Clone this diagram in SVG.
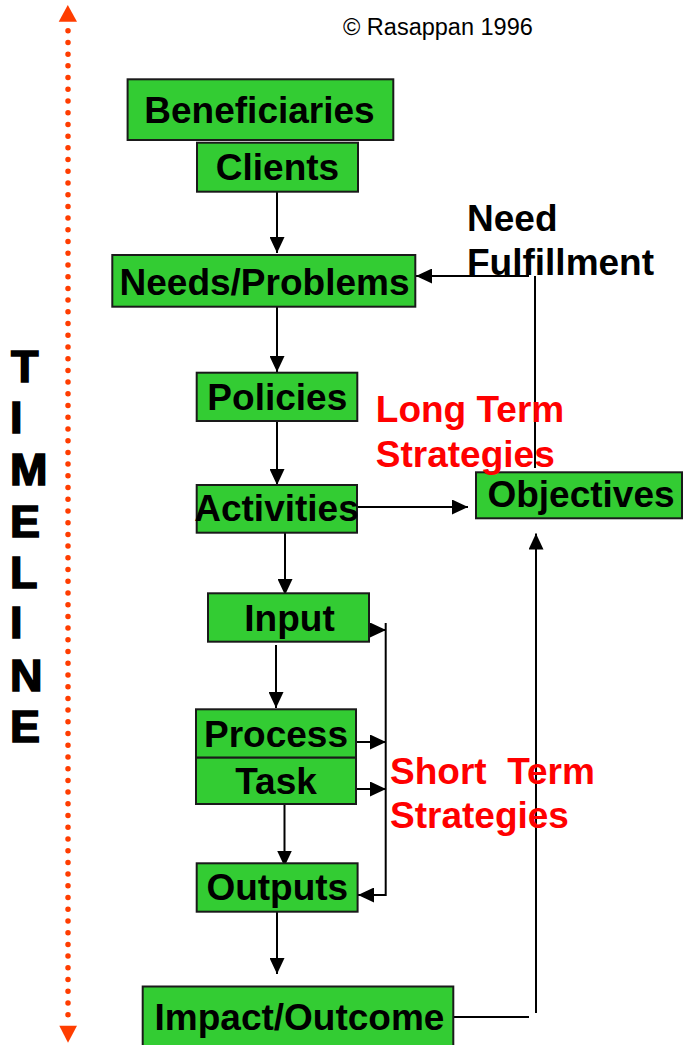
<svg xmlns="http://www.w3.org/2000/svg" width="683" height="1045" viewBox="0 0 683 1045">
  <style>
    .box { fill: #33CC33; stroke: #1a1a1a; stroke-width: 2; }
    .lbl { font-family: "Liberation Sans", Arial, sans-serif; font-weight: bold; font-size: 37px; fill: #000; text-anchor: middle; }
    .note { font-family: "Liberation Sans", Arial, sans-serif; font-weight: bold; font-size: 37px; }
    .red { fill: #FF0000; }
    .tl { font-family: "Liberation Sans", Arial, sans-serif; font-weight: bold; font-size: 45px; fill: #000; stroke: #000; stroke-width: 1.6; }
    .conn { fill: none; stroke: #000; stroke-width: 2; }
  </style>
  <defs>
    <marker id="arr" markerUnits="userSpaceOnUse" markerWidth="16" markerHeight="15" viewBox="0 0 16 15" refX="16" refY="7.5" orient="auto">
      <path d="M0,0 L16,7.5 L0,15 z" fill="#000"/>
    </marker>
  </defs>
  <rect width="683" height="1045" fill="#fff"/>

  <g id="timeline">
    <line x1="68" y1="30.7" x2="68" y2="1014.7" stroke="#FF3D00" stroke-width="5.5" stroke-linecap="round" stroke-dasharray="0 11.714"/>
    <polygon points="58.7,21.7 77,21.7 67.8,5" fill="#FF3D00"/>
    <polygon points="59.3,1025.7 77,1025.7 68,1042.7" fill="#FF3D00"/>
    <text class="tl" x="11" y="382">T</text>
    <text class="tl" x="10" y="433.4">I</text>
    <text class="tl" x="10" y="485">M</text>
    <text class="tl" x="10" y="536.8">E</text>
    <text class="tl" x="10" y="587.8">L</text>
    <text class="tl" x="10" y="638.4">I</text>
    <text class="tl" x="10" y="691.2">N</text>
    <text class="tl" x="10" y="741.8">E</text>
  </g>

  <text id="copyright" x="343" y="35" font-family="'Liberation Sans', Arial, sans-serif" font-size="23.5" fill="#000">© Rasappan 1996</text>

  <g id="connectors">
    <path class="conn" d="M277,192 V253" marker-end="url(#arr)"/>
    <path class="conn" d="M277,307 V372" marker-end="url(#arr)"/>
    <path class="conn" d="M277,421 V485" marker-end="url(#arr)"/>
    <path class="conn" d="M357,507 H468" marker-end="url(#arr)"/>
    <path class="conn" d="M285,533 V595" marker-end="url(#arr)"/>
    <path class="conn" d="M276,645 V708" marker-end="url(#arr)"/>
    <path class="conn" d="M284.5,804 V866.5" marker-end="url(#arr)"/>
    <path class="conn" d="M277,912 V974" marker-end="url(#arr)"/>
    <path class="conn" d="M356,630 H386" marker-end="url(#arr)"/>
    <path class="conn" d="M357,742 H386" marker-end="url(#arr)"/>
    <path class="conn" d="M357,789 H386" marker-end="url(#arr)"/>
    <path class="conn" d="M385.7,623 V896"/>
    <path class="conn" d="M386,895 H358" marker-end="url(#arr)"/>
    <path class="conn" d="M445,1017 H529"/>
    <path class="conn" d="M536,1013 V533.5" marker-end="url(#arr)"/>
    <path class="conn" d="M535,468 V276"/>
    <path class="conn" d="M529,276 H416" marker-end="url(#arr)"/>
  </g>

  <g id="beneficiaries">
    <rect class="box" x="127.6" y="79.3" width="265.7" height="60.7"/>
    <text class="lbl" x="259.5" y="123.3">Beneficiaries</text>
  </g>
  <g id="clients">
    <rect class="box" x="197" y="142.7" width="161" height="49"/>
    <text class="lbl" x="277.5" y="180">Clients</text>
  </g>
  <g id="needs">
    <rect class="box" x="112.3" y="255" width="303" height="51.7"/>
    <text class="lbl" x="264.5" y="294.5">Needs/Problems</text>
  </g>
  <g id="policies">
    <rect class="box" x="196.7" y="372.7" width="160.6" height="48.3"/>
    <text class="lbl" x="277.3" y="410">Policies</text>
  </g>
  <g id="activities">
    <rect class="box" x="196.7" y="485" width="160.3" height="47.7"/>
    <text class="lbl" x="276.5" y="520.7">Activities</text>
  </g>
  <g id="objectives">
    <rect class="box" x="476" y="472.3" width="206" height="46"/>
    <text class="lbl" x="581" y="506.7">Objectives</text>
  </g>
  <g id="input">
    <rect class="box" x="208" y="593.3" width="161" height="48.4"/>
    <text class="lbl" x="289.5" y="631">Input</text>
  </g>
  <g id="process">
    <rect class="box" x="196" y="709.3" width="160" height="48.4"/>
    <text class="lbl" x="276" y="746.7">Process</text>
  </g>
  <g id="task">
    <rect class="box" x="196" y="757.7" width="160" height="46.3"/>
    <text class="lbl" x="276" y="794">Task</text>
  </g>
  <g id="outputs">
    <rect class="box" x="196.7" y="863.3" width="160.9" height="48.4"/>
    <text class="lbl" x="277.3" y="900">Outputs</text>
  </g>
  <g id="impact">
    <rect class="box" x="142.7" y="986.5" width="310.6" height="70"/>
    <text class="lbl" x="299.5" y="1030">Impact/Outcome</text>
  </g>

  <g id="labels">
    <text class="note" x="467" y="230.7" fill="#000">Need</text>
    <text class="note" x="467" y="275" fill="#000">Fulfillment</text>
    <text class="note red" x="375.8" y="421.7">Long Term</text>
    <text class="note red" x="375.8" y="466.7">Strategies</text>
    <text class="note red" x="390" y="784" xml:space="preserve">Short  Term</text>
    <text class="note red" x="390" y="828">Strategies</text>
  </g>
</svg>
